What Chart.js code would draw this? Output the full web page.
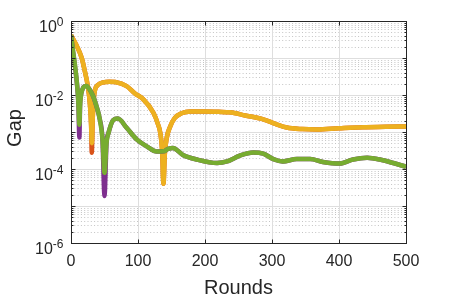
<!DOCTYPE html>
<html>
<head>
<meta charset="utf-8">
<script src="https://cdn.jsdelivr.net/npm/chart.js@4.4.0/dist/chart.umd.min.js"></script>
<style>
  html, body { margin: 0; padding: 0; background: #fff; }
</style>
</head>
<body>
<canvas id="gapChart" width="450" height="300"></canvas>
<script>
"use strict";

// rounds / gap values
var roundsGreen = [0, 3, 6, 9, 11, 12.5, 13.5, 15, 17, 20, 23, 27, 33, 38, 43, 47, 50, 53, 56, 63, 70, 83, 98, 113, 128, 138, 145, 152, 167, 188, 218, 233, 252, 272, 287, 302, 316, 337, 357, 376, 401, 421, 442, 461, 481, 500];
var gapGreen = [0.417, 0.158, 0.0617, 0.02, 0.0063, 0.00158, 0.005, 0.01, 0.0141, 0.017, 0.0174, 0.0148, 0.0093, 0.005, 0.0022, 6.3e-4, 7.9e-5, 5.0e-4, 9.5e-4, 2.1e-3, 2.3e-3, 1.3e-3, 6.3e-4, 4.1e-4, 2.95e-4, 3.0e-4, 3.5e-4, 3.7e-4, 2.4e-4, 1.8e-4, 1.45e-4, 1.6e-4, 2.3e-4, 2.8e-4, 2.6e-4, 1.85e-4, 1.6e-4, 1.85e-4, 1.85e-4, 1.55e-4, 1.4e-4, 1.8e-4, 2.0e-4, 1.8e-4, 1.45e-4, 1.15e-4];
var gapPurple = [0.417, 0.15, 0.058, 0.019, 0.006, 7.1e-4, 0.005, 0.01, 0.0141, 0.0172, 0.0176, 0.015, 0.0093, 0.005, 0.0022, 6.3e-4, 1.86e-5, 5.0e-4, 9.5e-4, 2.1e-3, 2.3e-3, 1.3e-3, 6.3e-4, 4.1e-4, 2.95e-4, 3.0e-4, 3.5e-4, 3.7e-4, 2.4e-4, 1.8e-4, 1.45e-4, 1.6e-4, 2.3e-4, 2.8e-4, 2.6e-4, 1.85e-4, 1.6e-4, 1.85e-4, 1.85e-4, 1.55e-4, 1.4e-4, 1.8e-4, 2.0e-4, 1.8e-4, 1.45e-4, 1.15e-4];

var roundsYellow = [0, 8, 16, 21, 25, 28, 30, 31, 32.5, 34, 36, 40, 48, 57, 66, 83, 95, 108, 123, 130, 133, 136, 138, 140, 143, 148, 155, 165, 178, 200, 220, 237, 260, 287, 305, 322, 345, 367, 400, 436, 470, 500];
var gapYellow = [0.417, 0.224, 0.1, 0.041, 0.0178, 0.0063, 0.00158, 5.0e-4, 0.0025, 0.0079, 0.0141, 0.0186, 0.0219, 0.0229, 0.0224, 0.0174, 0.0112, 0.0076, 0.0033, 0.00158, 0.001, 3.2e-4, 4.0e-5, 2.5e-4, 7.1e-4, 1.4e-3, 2.4e-3, 3.2e-3, 3.6e-3, 3.6e-3, 3.5e-3, 3.4e-3, 2.8e-3, 2.2e-3, 1.66e-3, 1.32e-3, 1.2e-3, 1.17e-3, 1.26e-3, 1.35e-3, 1.38e-3, 1.41e-3];
var gapRed = [0.417, 0.224, 0.1, 0.041, 0.0178, 0.0063, 0.00158, 2.75e-4, 0.0025, 0.0079, 0.0141, 0.0186, 0.0219, 0.0229, 0.0224, 0.0174, 0.0112, 0.0076, 0.0033, 0.00158, 0.001, 3.2e-4, 4.0e-5, 2.5e-4, 7.1e-4, 1.4e-3, 2.4e-3, 3.2e-3, 3.6e-3, 3.6e-3, 3.5e-3, 3.4e-3, 2.8e-3, 2.2e-3, 1.66e-3, 1.32e-3, 1.2e-3, 1.17e-3, 1.26e-3, 1.35e-3, 1.38e-3, 1.41e-3];

var xTicks = [0, 100, 200, 300, 400, 500];
var yTickExps = [0, -2, -4, -6];

var FONT = "'Liberation Sans', Arial, sans-serif";
var AXIS = "#262626";

function pts(xs, ys) {
  return xs.map(function (x, i) { return { x: x, y: ys[i] }; });
}

// grid, box, inward ticks and 10^n labels, MATLAB style
var matlabAxes = {
  id: "matlabAxes",
  beforeDatasetsDraw: function (chart) {
    var ctx = chart.ctx, a = chart.chartArea;
    var xs = chart.scales.x, ys = chart.scales.y;
    ctx.save();
    ctx.lineWidth = 1;
    // minor y grid, dotted
    ctx.strokeStyle = "#c4c4c4";
    ctx.setLineDash([1, 2.3]);
    for (var e = -6; e < 0; e++) {
      for (var m = 2; m <= 9; m++) {
        var py = Math.round(ys.getPixelForValue(m * Math.pow(10, e))) + 0.5;
        ctx.beginPath(); ctx.moveTo(a.left, py); ctx.lineTo(a.right, py); ctx.stroke();
      }
    }
    ctx.setLineDash([]);
    // major grid
    ctx.strokeStyle = "#dedede";
    for (var k = -6; k <= 0; k++) {
      var gy = Math.round(ys.getPixelForValue(Math.pow(10, k))) + 0.5;
      ctx.beginPath(); ctx.moveTo(a.left, gy); ctx.lineTo(a.right, gy); ctx.stroke();
    }
    xTicks.forEach(function (t) {
      var gx = Math.round(xs.getPixelForValue(t)) + 0.5;
      ctx.beginPath(); ctx.moveTo(gx, a.top); ctx.lineTo(gx, a.bottom); ctx.stroke();
    });
    ctx.restore();
  },
  afterDraw: function (chart) {
    var ctx = chart.ctx, a = chart.chartArea;
    var xs = chart.scales.x, ys = chart.scales.y;
    var L = Math.round(a.left) + 0.5, R = Math.round(a.right) + 0.5;
    var T = Math.round(a.top) + 0.5, B = Math.round(a.bottom) + 0.5;
    ctx.save();
    ctx.strokeStyle = AXIS;
    ctx.lineWidth = 1;
    ctx.strokeRect(L, T, R - L, B - T);
    ctx.beginPath();
    xTicks.forEach(function (t) {
      var px = Math.round(xs.getPixelForValue(t)) + 0.5;
      ctx.moveTo(px, B); ctx.lineTo(px, B - 4);
      ctx.moveTo(px, T); ctx.lineTo(px, T + 4);
    });
    for (var e = -6; e <= 0; e++) {
      for (var m = 1; m <= 9; m++) {
        if (e === 0 && m > 1) break;
        var py = Math.round(ys.getPixelForValue(m * Math.pow(10, e))) + 0.5;
        var len = m === 1 ? 4 : 2;
        ctx.moveTo(L, py); ctx.lineTo(L + len, py);
        ctx.moveTo(R, py); ctx.lineTo(R - len, py);
      }
    }
    ctx.stroke();
    // y labels 10^n
    ctx.fillStyle = AXIS;
    ctx.textBaseline = "alphabetic";
    ctx.textAlign = "left";
    var right = a.left - 7.5;
    yTickExps.forEach(function (e) {
      var py = ys.getPixelForValue(Math.pow(10, e));
      var sup = String(e);
      ctx.font = "12px " + FONT;
      var ws = ctx.measureText(sup).width;
      ctx.font = "16px " + FONT;
      var wb = ctx.measureText("10").width;
      ctx.fillText("10", right - ws - wb, py + 11);
      ctx.font = "12px " + FONT;
      ctx.fillText(sup, right - ws, py + 5);
    });
    // y axis title
    ctx.font = "20px " + FONT;
    ctx.textAlign = "center";
    ctx.textBaseline = "middle";
    ctx.translate(15, 128);
    ctx.rotate(-Math.PI / 2);
    ctx.fillText("Gap", 0, 0);
    ctx.restore();
  }
};

// chart.js paints the first dataset on top, so green comes first
var ctx = document.getElementById("gapChart");
var gapChart = new Chart(ctx, {
  type: "line",
  data: {
    datasets: [
      { label: "green", data: pts(roundsGreen, gapGreen), borderColor: "#77AC30" },
      { label: "purple", data: pts(roundsGreen, gapPurple), borderColor: "#7E2F8E" },
      { label: "yellow", data: pts(roundsYellow, gapYellow), borderColor: "#EDB120" },
      { label: "red", data: pts(roundsYellow, gapRed), borderColor: "#D95319" }
    ]
  },
  options: {
    responsive: false,
    animation: false,
    layout: { padding: { top: 21, right: 44, bottom: 0, left: 0 } },
    plugins: { legend: { display: false }, tooltip: { enabled: false } },
    elements: {
      point: { radius: 0 },
      line: { cubicInterpolationMode: "monotone", borderWidth: 4.5, borderJoinStyle: "bevel", borderCapStyle: "butt", fill: false }
    },
    scales: {
      x: {
        type: "linear",
        min: 0,
        max: 500,
        grid: { display: false, drawTicks: false },
        border: { display: false },
        ticks: { stepSize: 100, padding: 9, color: AXIS, font: { family: FONT, size: 16 }, maxRotation: 0 },
        title: { display: true, text: "Rounds", color: AXIS, padding: 0, font: { family: FONT, size: 20 } },
        afterFit: function (s) { s.height = 57; }
      },
      y: {
        type: "logarithmic",
        min: 1e-6,
        max: 1,
        grid: { display: false, drawTicks: false },
        border: { display: false },
        ticks: { display: false },
        afterFit: function (s) { s.width = 71; }
      }
    }
  },
  plugins: [matlabAxes]
});
</script>
</body>
</html>
